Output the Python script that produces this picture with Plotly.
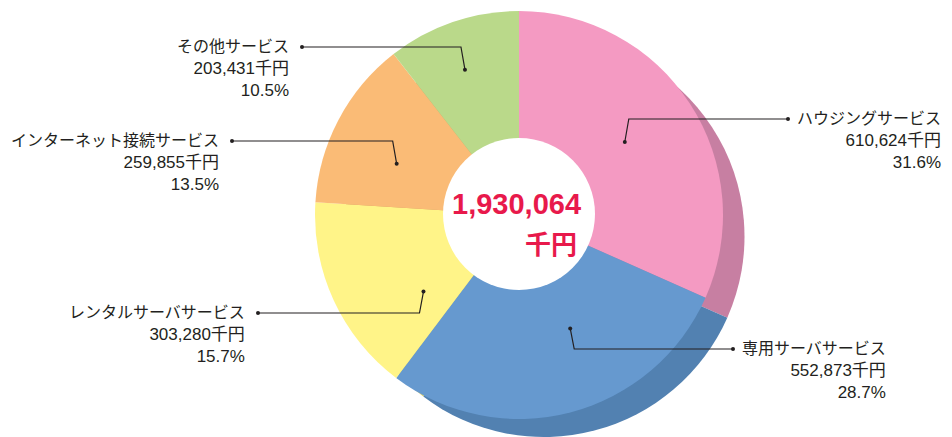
import math
import plotly.graph_objects as go

# ---- data ----
categories = ["ハウジングサービス", "専用サーバサービス", "レンタルサーバサービス",
              "インターネット接続サービス", "その他サービス"]
values = [610624, 552873, 303280, 259855, 203431]
percents = [31.6, 28.7, 15.7, 13.5, 10.5]
total_label = "1,930,064"
unit = "千円"

# ---- styling ----
colors = ["#F49AC2", "#6699CF", "#FFF488", "#FABB76", "#BAD98A"]
shadow_colors = ["#C77FA2", "#5281B1", "#D9CF70", "#D49E62", "#9DB874"]

W, H = 952, 437
CX, CY, R = 519, 215, 204          # main pie centre / radius in px
HOLE_R = 76

def px(x):
    return x / W

def py(y):
    return 1 - y / H

fig = go.Figure()

# shadow pie (offset)
fig.add_trace(go.Pie(
    labels=categories, values=values, sort=False, direction="clockwise", rotation=0,
    marker=dict(colors=shadow_colors, line=dict(width=0)),
    textinfo="none", hoverinfo="skip", showlegend=False,
    domain=dict(x=[px(544 - 200.5), px(544 + 200.5)], y=[0, 401 / H]),
))
# main pie
fig.add_trace(go.Pie(
    labels=categories, values=values, sort=False, direction="clockwise", rotation=0,
    marker=dict(colors=colors, line=dict(width=0)),
    textinfo="none", hoverinfo="skip", showlegend=False,
    domain=dict(x=[px(CX - R), px(CX + R)], y=[py(CY + R), py(CY - R)]),
))

shapes = []
annotations = []

# white centre disc
shapes.append(dict(type="circle", xref="paper", yref="paper", layer="above",
                   x0=px(CX - HOLE_R), x1=px(CX + HOLE_R),
                   y0=py(CY - 1 + HOLE_R), y1=py(CY - 1 - HOLE_R),
                   fillcolor="white", line=dict(width=0)))

# leader-line layout (anchor angle deg clockwise from top, radius fraction,
# label line y px, label-side x px, side)
leader_angle = [55.4, 155.7, 231.3, 292.7, 339.6]
leader_frac = [0.63, 0.61, 0.60, 0.65, 0.76]
label_y = [119, 349, 313, 141, 47]
label_x = [788, 733, 258, 232, 302]
side = [1, 1, -1, -1, -1]

line_col = "#231F20"
lab_font = dict(family="Liberation Sans, Noto Sans CJK JP", size=17, color=line_col)

for i, cat in enumerate(categories):
    th = math.radians(leader_angle[i])
    ax = CX + leader_frac[i] * R * math.sin(th)
    ay = CY - leader_frac[i] * R * math.cos(th)
    ex = ax + 4 * side[i]
    ey = label_y[i]
    lx = label_x[i]
    pts = [(ax, ay), (ex, ey), (lx, ey)]
    path = "M " + " L ".join(f"{px(x):.5f},{py(y):.5f}" for x, y in pts)
    shapes.append(dict(type="path", xref="paper", yref="paper", layer="above",
                       path=path, line=dict(color=line_col, width=1.2)))
    for (x, y) in [(ax, ay), (lx, ey)]:
        shapes.append(dict(type="circle", xref="paper", yref="paper", layer="above",
                           x0=px(x - 2), x1=px(x + 2), y0=py(y + 2), y1=py(y - 2),
                           fillcolor=line_col, line=dict(width=0)))
    text = (f"<span style='font-size:16px'>{cat}</span><br>"
            f"{values[i]:,}{unit}<br>{percents[i]:.1f}%")
    if side[i] > 0:
        annotations.append(dict(x=px(lx + 7), y=py(ey + 22), xref="paper", yref="paper",
                                text=text, showarrow=False, xanchor="left", yanchor="middle",
                                align="right", font=lab_font))
    else:
        annotations.append(dict(x=px(lx - 11), y=py(ey + 22), xref="paper", yref="paper",
                                text=text, showarrow=False, xanchor="right", yanchor="middle",
                                align="right", font=lab_font))

# centre total
red = "#E8194B"
annotations.append(dict(x=px(516), y=py(204), xref="paper", yref="paper",
                        text=f"<b>{total_label}</b>", showarrow=False,
                        xanchor="center", yanchor="middle",
                        font=dict(family="Liberation Sans, Noto Sans CJK JP",
                                  size=29, color=red)))
annotations.append(dict(x=px(579), y=py(242), xref="paper", yref="paper",
                        text=f"<b>{unit}</b>", showarrow=False,
                        xanchor="right", yanchor="middle",
                        font=dict(family="Noto Sans CJK JP", size=26, color=red)))

fig.update_layout(
    width=W, height=H,
    margin=dict(l=0, r=0, t=0, b=0),
    paper_bgcolor="white", plot_bgcolor="white",
    shapes=shapes, annotations=annotations,
    showlegend=False,
)

fig.write_html("out.html", config={"displayModeBar": False},
               post_script="document.body.style.margin='0px';document.body.style.overflow='hidden';")
